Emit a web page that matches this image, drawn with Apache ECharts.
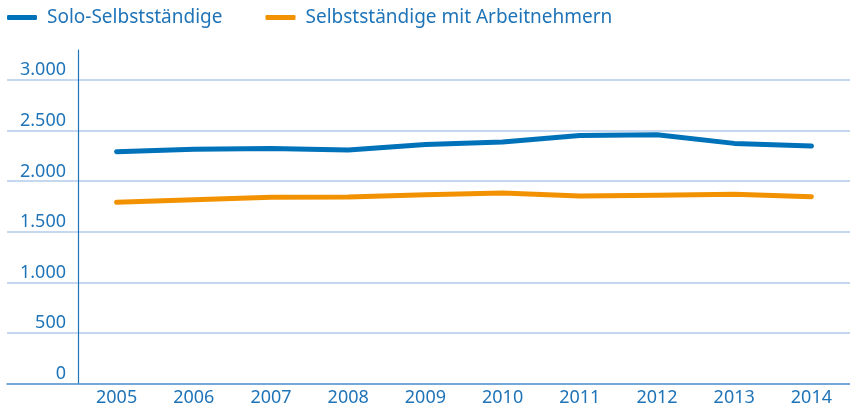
<!DOCTYPE html>
<html>
<head>
<meta charset="utf-8">
<script src="https://cdn.jsdelivr.net/npm/echarts@6/dist/echarts.min.js"></script>
<style>
html,body{margin:0;padding:0;background:#fff;}
#c{width:850px;height:409px;}
</style>
</head>
<body>
<div id="c"></div>
<script>
var years = ['2005','2006','2007','2008','2009','2010','2011','2012','2013','2014'];
var soloSelbst = [2293, 2318, 2325, 2310, 2365, 2390, 2453, 2462, 2376, 2349];
var selbstMitAN = [1793, 1818, 1843, 1845, 1868, 1885, 1855, 1862, 1872, 1848];
var yTickValues = [0, 500, 1000, 1500, 2000, 2500, 3000];
var yTickLabels = ['0', '500', '1.000', '1.500', '2.000', '2.500', '3.000'];

var textColor = '#1f74b8';
var font = 'Noto Sans';

var chart = echarts.init(document.getElementById('c'));
chart.setOption({
  animation: false,
  legend: {
    left: 2, top: 3,
    itemWidth: 30, itemHeight: 5, itemGap: 43,
    icon: 'roundRect',
    textStyle: {color: textColor, fontSize: 19, fontFamily: font, padding: [0,0,0,5]},
    data: ['Solo-Selbstständige', 'Selbstständige mit Arbeitnehmern']
  },
  grid: [
    {left: 7, right: 0, top: 80, bottom: 25.5},
    {left: 78, right: -1.7, top: 50, bottom: 25.5}
  ],
  xAxis: [
    {gridIndex: 0, type: 'value', min: 0, max: 1,
     axisLine: {show: true, onZero: false, lineStyle: {color: '#5a98d2', width: 1.5}},
     axisTick: {show: false}, axisLabel: {show: false}, splitLine: {show: false}},
    {gridIndex: 1, type: 'category', data: years, boundaryGap: true,
     axisLine: {show: false}, axisTick: {show: false},
     axisLabel: {color: textColor, fontSize: 18, fontFamily: font, margin: 5}}
  ],
  yAxis: [
    {gridIndex: 0, type: 'value', min: 0, max: 3000, interval: 500,
     axisLine: {show: false}, axisTick: {show: false}, axisLabel: {show: false},
     splitLine: {show: true, lineStyle: {color: '#b3cbea', width: 1.5}}},
    {gridIndex: 1, type: 'value', min: 0, max: 3300, interval: 500,
     axisLine: {show: true, lineStyle: {color: '#1f74b8', width: 1.2}},
     axisTick: {show: false}, splitLine: {show: false},
     axisLabel: {
       color: textColor, fontSize: 18, fontFamily: font, margin: 12,
       verticalAlign: 'bottom', padding: [0, 0, 1, 0],
       formatter: function (v) {
         var i = yTickValues.indexOf(v);
         return i >= 0 ? yTickLabels[i] : '';
       }
     }}
  ],
  series: [
    {name: 'Solo-Selbstständige', type: 'line', xAxisIndex: 1, yAxisIndex: 1,
     data: soloSelbst, symbol: 'none', color: '#0072b9',
     lineStyle: {width: 5, cap: 'round', join: 'round', color: '#0072b9'}},
    {name: 'Selbstständige mit Arbeitnehmern', type: 'line', xAxisIndex: 1, yAxisIndex: 1,
     data: selbstMitAN, symbol: 'none', color: '#f39200',
     lineStyle: {width: 5, cap: 'round', join: 'round', color: '#f39200'}}
  ]
});
</script>
</body>
</html>
